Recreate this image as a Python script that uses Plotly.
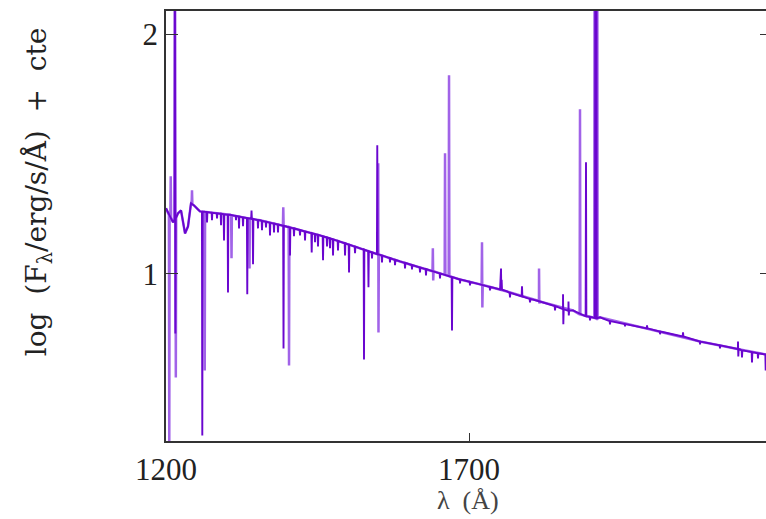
import plotly.graph_objects as go

# ---------------- data ----------------
# continuum anchor points (wavelength in Angstrom, log flux + cte)
cont_wave = [1200.0, 1206.6, 1211.6, 1219.8, 1224.8, 1231.4, 1236.3, 1241.3, 1246.2,
             1252.8, 1256.1, 1305.6, 1355.1, 1404.6, 1454.1, 1487.1, 1520.1, 1586.1,
             1635.6, 1685.1, 1762.7, 1817.1, 1871.6, 1916.1, 2015.1, 2081.1, 2147.1, 2190.0]
cont_flux = [1.273, 1.243, 1.214, 1.252, 1.264, 1.168, 1.197, 1.294, 1.285,
             1.268, 1.260, 1.246, 1.223, 1.193, 1.160, 1.134, 1.106, 1.051,
             1.014, 0.976, 0.926, 0.884, 0.847, 0.818, 0.759, 0.717, 0.684, 0.663]

# spectral lines: wavelength, local continuum, extreme value, which spectrum
line_wave = [1205.4, 1207.8, 1214.6, 1214.8, 1215.4, 1216.2, 1242.9, 1259.9, 1263.9, 1267.7,
             1275.9, 1284.2, 1290.8, 1295.7, 1302.3, 1308.1, 1315.5, 1320.5, 1327.1, 1334.1,
             1337.8, 1341.1, 1343.6, 1351.8, 1358.4, 1365.0, 1371.6, 1378.2, 1384.8, 1393.5,
             1393.9, 1403.0, 1404.6, 1411.2, 1421.1, 1429.4, 1440.4, 1445.9, 1450.8, 1459.1,
             1465.7, 1470.6, 1475.6, 1483.8, 1495.4, 1502.0, 1511.9, 1526.7, 1534.1, 1539.9,
             1548.6, 1550.2, 1550.6, 1556.4, 1569.6, 1577.9, 1594.4, 1605.9, 1619.1, 1629.0,
             1640.3, 1640.9, 1652.1, 1660.4, 1667.0, 1671.9, 1685.1, 1701.6, 1721.4, 1722.0,
             1734.6, 1751.8, 1752.8, 1753.8, 1767.6, 1787.4, 1800.6, 1815.5, 1816.0, 1841.9,
             1855.1, 1855.6, 1864.1, 1864.6, 1883.1, 1893.0, 1899.6, 1907.2, 1908.4, 1910.2,
             1911.6, 1932.6, 1957.4, 1993.7, 2015.1, 2053.1, 2081.1, 2114.1, 2143.8, 2144.3,
             2150.4, 2166.9, 2176.8, 2189.5]
line_base = [1.245, 1.235, 1.225, 1.225, 1.230, 1.235, 1.290, 1.259, 1.258, 1.257,
             1.254, 1.252, 1.250, 1.248, 1.246, 1.244, 1.241, 1.239, 1.235, 1.232,
             1.230, 1.229, 1.228, 1.224, 1.220, 1.217, 1.213, 1.209, 1.205, 1.200,
             1.200, 1.194, 1.193, 1.189, 1.182, 1.176, 1.169, 1.165, 1.162, 1.156,
             1.151, 1.147, 1.143, 1.137, 1.127, 1.121, 1.113, 1.100, 1.094, 1.089,
             1.082, 1.080, 1.080, 1.076, 1.065, 1.058, 1.045, 1.036, 1.026, 1.019,
             1.010, 1.010, 1.001, 0.995, 0.990, 0.986, 0.976, 0.966, 0.954, 0.953,
             0.945, 0.934, 0.934, 0.933, 0.920, 0.905, 0.895, 0.886, 0.886, 0.865,
             0.852, 0.852, 0.845, 0.845, 0.830, 0.822, 0.820, 0.816, 0.815, 0.814,
             0.813, 0.802, 0.790, 0.772, 0.759, 0.738, 0.717, 0.701, 0.686, 0.686,
             0.680, 0.673, 0.668, 0.663]
line_peak = [0.250, 1.406, 2.500, 2.500, 0.751, 0.567, 1.348, 0.325, 0.596, 1.214,
             1.223, 1.231, 1.202, 1.139, 0.922, 1.064, 1.223, 1.189, 1.198, 0.914,
             1.022, 1.264, 1.039, 1.189, 1.181, 1.193, 1.160, 1.172, 1.172, 1.277,
             0.688, 0.617, 1.076, 1.156, 1.160, 1.139, 1.089, 1.131, 1.114, 1.056,
             1.114, 1.106, 1.076, 1.097, 1.076, 1.005, 1.085, 0.642, 0.943, 1.064,
             1.536, 1.461, 0.755, 1.047, 1.047, 1.035, 1.022, 1.018, 1.005, 0.993,
             1.106, 0.972, 0.980, 1.502, 1.828, 0.763, 0.959, 0.951, 1.131, 0.859,
             0.930, 0.975, 1.022, 0.975, 0.901, 0.947, 0.880, 1.022, 0.876, 0.847,
             0.914, 0.789, 0.884, 0.826, 1.686, 1.465, 0.805, 2.500, 2.500, 2.500,
             2.500, 0.789, 0.780, 0.784, 0.747, 0.755, 0.705, 0.688, 0.717, 0.655,
             0.651, 0.630, 0.646, 0.596]
line_kind = ["light", "light", "dark", "light", "dark", "light", "light", "dark", "light", "dark",
             "dark", "dark", "dark", "dark", "dark", "light", "dark", "dark", "dark", "dark",
             "light", "dark", "dark", "dark", "dark", "dark", "dark", "dark", "dark", "light",
             "dark", "light", "dark", "dark", "dark", "dark", "dark", "dark", "dark", "dark",
             "dark", "dark", "dark", "dark", "dark", "dark", "dark", "dark", "dark", "dark",
             "dark", "light", "light", "dark", "dark", "dark", "dark", "dark", "dark", "dark",
             "light", "light", "dark", "light", "light", "dark", "dark", "dark", "light", "light",
             "dark", "dark", "dark", "dark", "dark", "dark", "dark", "light", "light", "dark",
             "dark", "dark", "dark", "dark", "light", "dark", "dark", "light", "dark", "dark",
             "light", "dark", "dark", "dark", "dark", "dark", "dark", "dark", "dark", "dark",
             "dark", "dark", "dark", "dark"]

x_ticks = [1200, 1700]
y_ticks = [1, 2]
x_title = "λ  (Å)"
NB = "\u00a0"
y_title = "log" + NB * 2 + "(F<sub>λ</sub>/erg/s/Å)" + NB * 2 + "+" + NB * 2 + "cte"

colors = {"light": "#a163e8", "dark": "#6a06cf"}
widths = {"light": 2.5, "dark": 1.9}
HALF = 0.6  # half width of a line profile in Angstrom


def spectrum(kind):
    pts = list(zip(cont_wave, cont_flux))
    for w, b, p, k in zip(line_wave, line_base, line_peak, line_kind):
        if k == kind:
            pts += [(w - HALF, b), (w, p), (w + HALF, b)]
    pts.sort(key=lambda t: t[0])
    return [t[0] for t in pts], [t[1] for t in pts]


fig = go.Figure()
for kind in ["light", "dark"]:
    xs, ys = spectrum(kind)
    fig.add_trace(go.Scatter(x=xs, y=ys, mode="lines",
                             line=dict(color=colors[kind], width=widths[kind]),
                             hoverinfo="skip", showlegend=False))
# invisible trace to carry the right-hand tick axis
fig.add_trace(go.Scatter(x=[cont_wave[0]], y=[cont_flux[0]], yaxis="y2", mode="lines",
                         line=dict(width=0), hoverinfo="skip", showlegend=False))

font_family = "Liberation Serif, DejaVu Serif, serif"
fig.update_layout(
    width=766, height=519,
    margin=dict(l=166, r=0, t=11, b=78),
    paper_bgcolor="white", plot_bgcolor="white",
    font=dict(family=font_family, color="#222", size=31),
    xaxis=dict(range=[1200, 2190], tickvals=x_ticks, ticktext=[str(v) for v in x_ticks],
               ticks="inside", ticklen=8, tickwidth=1.2, tickcolor="#333",
               showline=True, linecolor="#333", linewidth=1.5, mirror=True,
               showgrid=False, zeroline=False,
               tickfont=dict(family=font_family, size=31, color="#222")),
    yaxis=dict(range=[0.302, 2.096], tickvals=y_ticks, ticktext=[str(v) for v in y_ticks],
               ticks="inside", ticklen=12, tickwidth=1.2, tickcolor="#333",
               showline=True, linecolor="#333", linewidth=1.5, mirror=False,
               showgrid=False, zeroline=False,
               tickfont=dict(family=font_family, size=31, color="#222")),
    yaxis2=dict(range=[0.302, 2.096], overlaying="y", side="right", tickvals=y_ticks,
                ticks="inside", ticklen=6, tickwidth=1.2, tickcolor="#333",
                showticklabels=False, showline=False, showgrid=False, zeroline=False),
    annotations=[
        dict(text=x_title, xref="paper", yref="paper", x=0.503, y=-0.139,
             xanchor="center", yanchor="middle", showarrow=False,
             font=dict(family=font_family, size=26, color="#444")),
        dict(text=y_title, xref="paper", yref="paper", x=-0.213, y=0.579,
             xanchor="center", yanchor="middle", textangle=-90, showarrow=False,
             font=dict(family="DejaVu Serif", size=28, color="#222")),
    ],
)

fig.write_html("out.html")
